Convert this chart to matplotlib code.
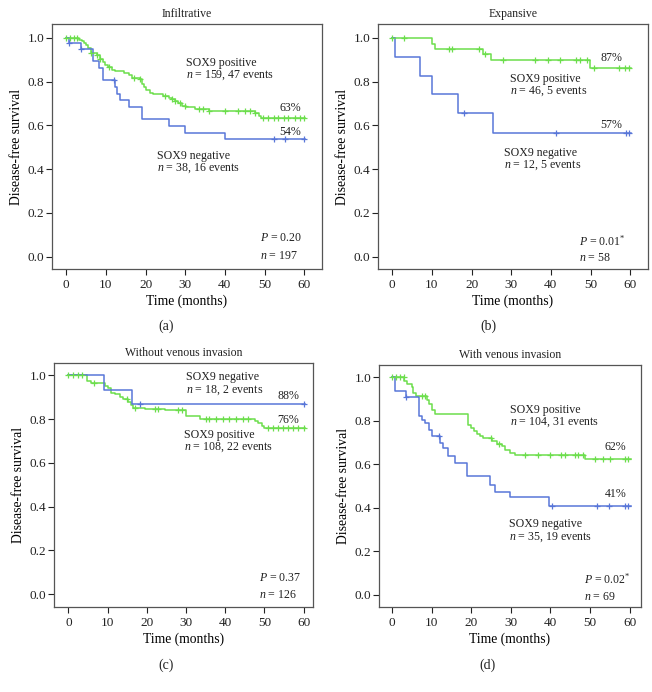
import numpy as np
import matplotlib
matplotlib.use("Agg")
import matplotlib.pyplot as plt

plt.rcParams["font.family"] = ["Liberation Serif", "DejaVu Serif"]
plt.rcParams["mathtext.fontset"] = "custom"
plt.rcParams["mathtext.rm"] = "Liberation Serif"
plt.rcParams["mathtext.it"] = "Liberation Serif:italic"

GREEN = "#6cde4c"
BLUE = "#5876d8"

# (a) Infiltrative
a_pos_t = [3.3, 4.0, 4.5, 5.0, 5.6, 6.2, 7.7, 8.6, 9.2, 9.8, 10.4, 11.5, 12.4, 14.5, 15.7,
           16.5, 18.7, 19.1, 19.7, 20.1, 21.0, 21.8, 24.3, 25.8, 26.6, 27.5, 28.3, 29.2, 30.3,
           32.4, 35.9, 47.6, 48.5, 49.1]
a_pos_s = [0.99, 0.985, 0.975, 0.965, 0.955, 0.93, 0.92, 0.905, 0.89, 0.875, 0.865, 0.855,
           0.85, 0.84, 0.83, 0.815, 0.81, 0.79, 0.775, 0.76, 0.75, 0.745, 0.735, 0.725, 0.72,
           0.71, 0.70, 0.69, 0.685, 0.675, 0.665, 0.655, 0.645, 0.632]
a_pos_c = [0, 1, 2, 2.8, 6.2, 7.7, 8.6, 10.7, 17, 18.7, 25, 26.6, 27.5, 28.7, 30, 33.4,
           34.6, 35.9, 40.1, 43.2, 45.1, 46.4, 47.6, 49.7, 51, 52.3, 53.5, 54.8, 56, 57.8, 59, 60]
a_neg_t = [0.7, 3.7, 6.8, 8.2, 9.2, 12.3, 12.9, 13.6, 15.8, 19.0, 26.0, 30.0, 40.0]
a_neg_s = [0.974, 0.947, 0.895, 0.86, 0.805, 0.775, 0.745, 0.715, 0.685, 0.627, 0.597,
           0.566, 0.536]
a_neg_c = [0.8, 3.8, 12.0, 52.3, 55.2, 60]

# (b) Expansive
b_pos_t = [9.9, 10.9, 23.0, 25.0, 49.9]
b_pos_s = [0.97, 0.947, 0.925, 0.9, 0.863]
b_pos_c = [0, 3, 14.3, 15.1, 21.8, 23.4, 28, 36, 39.2, 42.2, 46.4, 47.4, 49.2, 51, 57.3,
           58.7, 59.8]
b_neg_t = [0.7, 7.1, 9.9, 16.5, 25.3]
b_neg_s = [0.913, 0.825, 0.742, 0.658, 0.566]
b_neg_c = [18.1, 41.3, 59.0, 59.8]

# (c) Without venous invasion
c_pos_t = [4.8, 5.8, 9.3, 10.2, 11.0, 11.9, 13.2, 14.0, 15.3, 16.0, 16.6, 19.5, 24.6, 30.1,
           33.6, 47.5, 48.3, 49.3, 50.0]
c_pos_s = [0.974, 0.963, 0.953, 0.943, 0.92, 0.913, 0.902, 0.89, 0.878, 0.863, 0.852, 0.848,
           0.84, 0.815, 0.802, 0.79, 0.78, 0.77, 0.758]
c_pos_c = [0, 1.3, 2.4, 3.4, 6.5, 14.9, 17, 22, 22.9, 27.9, 29, 35, 36, 37.7, 39.4, 41.1,
           42.8, 44.5, 45.7, 51, 52.3, 53.6, 54.8, 56.1, 57.4, 58.7, 60]
c_neg_t = [9.2, 16.3]
c_neg_s = [0.933, 0.868]
c_neg_c = [18.3, 60]

# (d) With venous invasion
d_pos_t = [3.0, 3.7, 5.0, 5.4, 6.1, 8.8, 9.4, 10.0, 10.9, 19.3, 19.9, 20.6, 21.4, 22.2,
           23.0, 25.2, 26.5, 27.7, 28.6, 29.8, 31.0, 48.7]
d_pos_s = [0.984, 0.969, 0.954, 0.928, 0.913, 0.898, 0.878, 0.852, 0.832, 0.782, 0.767,
           0.755, 0.74, 0.729, 0.721, 0.706, 0.695, 0.683, 0.667, 0.652, 0.641, 0.624]
d_pos_c = [0, 1, 2, 2.9, 7.5, 8.3, 25, 27, 33.5, 36.9, 39.9, 42.8, 43.6, 46.2, 47, 48.3,
           51.2, 53.2, 55, 58.8, 59.7]
d_neg_t = [0.8, 3.6, 6.9, 7.5, 8.3, 9.4, 10.0, 12.1, 12.9, 14.2, 15.9, 19.0, 24.8, 26.0,
           29.8, 39.7]
d_neg_s = [0.938, 0.908, 0.82, 0.805, 0.79, 0.759, 0.729, 0.70, 0.675, 0.637, 0.606, 0.545,
           0.506, 0.473, 0.448, 0.41]
d_neg_c = [3.6, 11.9, 40.5, 51.8, 54.8, 58.8, 59.7]

titles = ["Infiltrative", "Expansive", "Without venous invasion", "With venous invasion"]
panel_tags = ["(a)", "(b)", "(c)", "(d)"]


def km_curve(ax, times, surv, censors, color, end=60.3):
    x = np.r_[0.0, times, end]
    y = np.r_[1.0, surv, surv[-1]]
    ax.step(x, y, where="post", color=color, lw=1.1, zorder=3)
    idx = np.searchsorted(x, censors, side="right") - 1
    ax.plot(censors, y[idx], ls="none", marker="+", ms=5, mew=0.9, color=color, zorder=4)


def style_axes(ax, xlim, ylim):
    ax.set_xlim(*xlim)
    ax.set_ylim(*ylim)
    ax.set_xticks(range(0, 61, 10))
    ax.set_yticks([0.0, 0.2, 0.4, 0.6, 0.8, 1.0])
    ax.set_yticklabels(["0.0", "0.2", "0.4", "0.6", "0.8", "1.0"])
    ax.tick_params(direction="out", length=4, width=0.8, labelsize=9.5, colors="#222222")
    ax.tick_params(axis="y", pad=1.5)
    ax.tick_params(axis="x", pad=3)
    for sp in ax.spines.values():
        sp.set_color("#555555")
        sp.set_linewidth(0.9)
    ax.set_xlabel("Time (months)", fontsize=9.8, labelpad=3)
    ax.set_ylabel("Disease-free survival", fontsize=9.8, labelpad=3)


def note(ax, x, y, s, ha="left"):
    ax.text(x, y, s, fontsize=8.6, ha=ha, va="center", color="#222222", zorder=5)


fig = plt.figure(figsize=(6.52, 6.92), dpi=100)
W, H = 652.0, 692.0


def axes_px(left, top, right, bottom):
    return fig.add_axes([left / W, 1 - bottom / H, (right - left) / W, (bottom - top) / H])


ax_a = axes_px(52, 24, 322, 269)
ax_b = axes_px(378, 24, 648, 269)
ax_c = axes_px(54, 363, 313, 607)
ax_d = axes_px(379, 365, 641, 607)

# (a)
km_curve(ax_a, a_pos_t, a_pos_s, a_pos_c, GREEN)
km_curve(ax_a, a_neg_t, a_neg_s, a_neg_c, BLUE)
style_axes(ax_a, (-3.6, 64.5), (-0.056, 1.063))
note(ax_a, 30.3, 0.887, "SOX9 positive")
note(ax_a, 30.3, 0.828, "$n$ = 159, 47 events")
note(ax_a, 56.4, 0.68, "63%", ha="center")
note(ax_a, 56.4, 0.571, "54%", ha="center")
note(ax_a, 22.9, 0.461, "SOX9 negative")
note(ax_a, 22.9, 0.403, "$n$ = 38, 16 events")
note(ax_a, 48.9, 0.084, "$P$ = 0.20")
note(ax_a, 48.9, 0.003, "$n$ = 197")

# (b)
km_curve(ax_b, b_pos_t, b_pos_s, b_pos_c, GREEN)
km_curve(ax_b, b_neg_t, b_neg_s, b_neg_c, BLUE)
style_axes(ax_b, (-3.6, 64.5), (-0.056, 1.063))
note(ax_b, 55.2, 0.909, "87%", ha="center")
note(ax_b, 29.8, 0.81, "SOX9 positive")
note(ax_b, 29.8, 0.758, "$n$ = 46, 5 events")
note(ax_b, 55.2, 0.60, "57%", ha="center")
note(ax_b, 28.3, 0.472, "SOX9 negative")
note(ax_b, 28.3, 0.42, "$n$ = 12, 5 events")
note(ax_b, 47.2, 0.072, "$P$ = 0.01$^{*}$")
note(ax_b, 47.2, -0.005, "$n$ = 58")

# (c)
km_curve(ax_c, c_pos_t, c_pos_s, c_pos_c, GREEN)
km_curve(ax_c, c_neg_t, c_neg_s, c_neg_c, BLUE)
style_axes(ax_c, (-3.65, 62.4), (-0.058, 1.056))
note(ax_c, 29.9, 0.99, "SOX9 negative")
note(ax_c, 29.9, 0.93, "$n$ = 18, 2 events")
note(ax_c, 56.1, 0.906, "88%", ha="center")
note(ax_c, 56.1, 0.796, "76%", ha="center")
note(ax_c, 29.5, 0.729, "SOX9 positive")
note(ax_c, 29.5, 0.671, "$n$ = 108, 22 events")
note(ax_c, 48.6, 0.076, "$P$ = 0.37")
note(ax_c, 48.6, -0.003, "$n$ = 126")

# (d)
km_curve(ax_d, d_pos_t, d_pos_s, d_pos_c, GREEN)
km_curve(ax_d, d_neg_t, d_neg_s, d_neg_c, BLUE)
style_axes(ax_d, (-3.3, 62.9), (-0.057, 1.057))
note(ax_d, 29.7, 0.85, "SOX9 positive")
note(ax_d, 29.7, 0.793, "$n$ = 104, 31 events")
note(ax_d, 56.4, 0.678, "62%", ha="center")
note(ax_d, 56.4, 0.462, "41%", ha="center")
note(ax_d, 29.5, 0.324, "SOX9 negative")
note(ax_d, 29.5, 0.264, "$n$ = 35, 19 events")
note(ax_d, 48.6, 0.071, "$P$ = 0.02$^{*}$")
note(ax_d, 48.6, -0.009, "$n$ = 69")

for ax, title in zip([ax_a, ax_b, ax_c, ax_d], titles):
    ax.set_title(title, fontsize=8.5, pad=5, color="#222222")

tag_pos = [(166, 326), (488, 326), (166, 665), (488, 665)]
for (px, py), tag in zip(tag_pos, panel_tags):
    fig.text(px / W, 1 - py / H, tag, fontsize=10, ha="center", va="center", color="#222222")

fig.savefig("out.png", dpi=100)
